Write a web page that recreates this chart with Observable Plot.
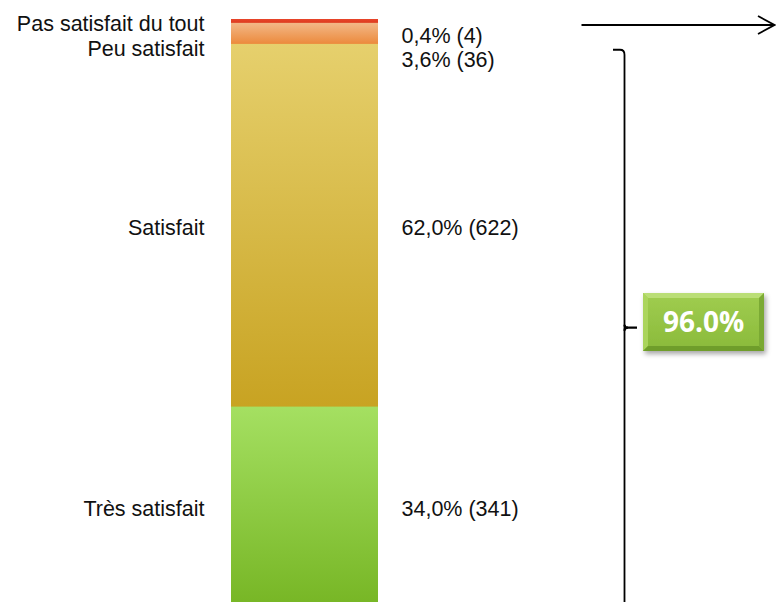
<!DOCTYPE html>
<html>
<head>
<meta charset="utf-8">
<script src="https://cdn.jsdelivr.net/npm/d3@7"></script>
<script src="https://cdn.jsdelivr.net/npm/@observablehq/plot@0.6"></script>
<style>
  body { margin: 0; background: #fff; }
  #chart { width: 776px; height: 602px; overflow: hidden; }
</style>
</head>
<body>
<div id="chart"></div>
<script>
// ---- data (bottom to top of the stacked bar) ----
const categories = ["Très satisfait", "Satisfait", "Peu satisfait", "Pas satisfait du tout"];
const percents = [34.0, 62.0, 3.6, 0.4];
const counts = [341, 622, 36, 4];
const satisfiedShare = 96.0; // Satisfait + Très satisfait
const barName = "Satisfaction";

// ---- derived table ----
let acc = 0;
const rows = categories.map((c, i) => {
  const y0 = acc; acc += percents[i];
  return {
    category: c,
    pct: percents[i],
    count: counts[i],
    mid: y0 + percents[i] / 2,
    valueLabel: percents[i].toFixed(1).replace(".", ",") + "% (" + counts[i] + ")"
  };
});

// label nudges (layout, px) to avoid overlap of the thin top segments
const leftNudge = {"Très satisfait": 2.3, "Satisfait": 2.5, "Peu satisfait": 15.4, "Pas satisfait du tout": 1.6};
const rightNudge = {"Très satisfait": 2.3, "Satisfait": 2.5, "Peu satisfait": 26.4, "Pas satisfait du tout": 13.8};

const fills = ["url(#gGreen)", "url(#gGold)", "url(#gOrange)", "url(#gRed)"];
const font = "'Liberation Sans', Arial, sans-serif";

const labelMarks = rows.flatMap(r => [
  Plot.text([r], {x: () => barName, y: "mid", text: "category", textAnchor: "end",
    dx: -100.5, dy: leftNudge[r.category], fontSize: 21.5, fill: "#111", fontFamily: font}),
  Plot.text([r], {x: () => barName, y: "mid", text: "valueLabel", textAnchor: "start",
    dx: 96.5, dy: rightNudge[r.category], fontSize: 21.5, fill: "#111", fontFamily: font})
]);

const plot = Plot.plot({
  width: 776,
  height: 602,
  margin: 0,
  style: {background: "#fff", overflow: "visible"},
  x: {type: "band", domain: [barName], range: [231, 378], padding: 0, axis: null},
  y: {domain: [0, 100], range: [605.5, 20.5], axis: null},
  color: {domain: categories, range: fills},
  marks: [
    Plot.barY(rows, {x: () => barName, y: "pct", fill: "category", insetTop: -1.5}),
    ...labelMarks
  ]
});

const svg = d3.select(plot);
const defs = svg.insert("defs", ":first-child");
function grad(id, top, bottom) {
  const g = defs.append("linearGradient").attr("id", id)
    .attr("x1", 0).attr("y1", 0).attr("x2", 0).attr("y2", 1);
  g.append("stop").attr("offset", "0%").attr("stop-color", top);
  g.append("stop").attr("offset", "100%").attr("stop-color", bottom);
}
grad("gRed", "#e8452a", "#dd3a1e");
grad("gOrange", "#f3bb8d", "#ec8a3c");
grad("gGold", "#e6d06d", "#c8a322");
grad("gGreen", "#a5e062", "#77b625");
grad("gBox", "#a0cd50", "#8aba3a");
const shadow = defs.append("filter").attr("id", "shadow").attr("x", "-20%").attr("y", "-20%").attr("width", "150%").attr("height", "160%");
shadow.append("feDropShadow").attr("dx", 2).attr("dy", 3).attr("stdDeviation", 2.5)
  .attr("flood-color", "#000").attr("flood-opacity", 0.35);

const yScale = plot.scale("y");
const yTop = yScale.apply(100 - 5);   // top of the bracket
const yBot = yScale.apply(0);
const yMid = (yTop + yBot) / 2;
const yArrow = yScale.apply(100) + 4.5;

const ann = svg.append("g").attr("fill", "none").attr("stroke", "#000")
  .attr("stroke-width", 1.8).attr("stroke-linecap", "butt");
// arrow at the top
ann.append("path").attr("d", `M581.5,${yArrow}L774,${yArrow}`);
ann.append("path").attr("d", `M758,${yArrow - 9}L774.5,${yArrow}L758,${yArrow + 9}`);
// bracket
ann.append("path").attr("d", `M613,${yTop}L620,${yTop}Q624.5,${yTop} 624.5,${yTop + 5}L624.5,${yBot + 2}`);
ann.append("path").attr("stroke-width", 2.2).attr("d", `M624.5,${yMid - 3}Q624.5,${yMid} 628,${yMid}L637,${yMid}`);
ann.append("path").attr("stroke-width", 2.2).attr("d", `M624.5,${yMid + 3}Q624.5,${yMid} 628,${yMid}`);

// green beveled box
const bx = 643, by = 293, bw = 121, bh = 58, bv = 5;
const box = svg.append("g");
box.append("rect").attr("x", bx).attr("y", by).attr("width", bw).attr("height", bh)
  .attr("fill", "url(#gBox)").attr("filter", "url(#shadow)");
box.append("path").attr("fill", "#bde07a").attr("opacity", 0.9)
  .attr("d", `M${bx},${by}L${bx + bw},${by}L${bx + bw - bv},${by + bv}L${bx + bv},${by + bv}Z`);
box.append("path").attr("fill", "#add65f").attr("opacity", 0.9)
  .attr("d", `M${bx},${by}L${bx + bv},${by + bv}L${bx + bv},${by + bh - bv}L${bx},${by + bh}Z`);
box.append("path").attr("fill", "#6c9a29").attr("opacity", 0.9)
  .attr("d", `M${bx},${by + bh}L${bx + bv},${by + bh - bv}L${bx + bw - bv},${by + bh - bv}L${bx + bw},${by + bh}Z`);
box.append("path").attr("fill", "#78a632").attr("opacity", 0.9)
  .attr("d", `M${bx + bw},${by}L${bx + bw},${by + bh}L${bx + bw - bv},${by + bh - bv}L${bx + bw - bv},${by + bv}Z`);
box.append("text").attr("x", bx + bw / 2).attr("y", by + bh / 2 + 10)
  .attr("text-anchor", "middle").attr("fill", "#fff")
  .attr("font-family", "'Open Sans', 'DejaVu Sans', sans-serif")
  .attr("font-weight", "bold").attr("font-size", 28)
  .text(satisfiedShare.toFixed(1) + "%");

document.getElementById("chart").appendChild(plot);
</script>
</body>
</html>
